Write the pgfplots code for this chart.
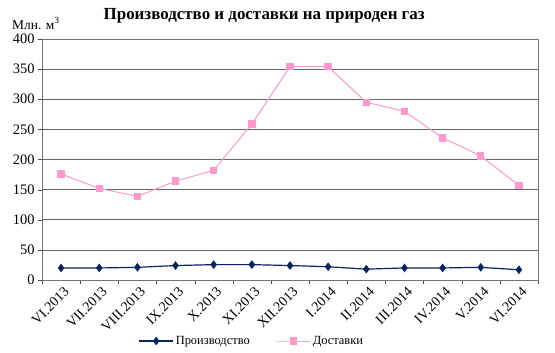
\documentclass[border=0pt]{standalone}
\usepackage{pgfplots}
\pgfplotsset{compat=1.18}
\usepackage{fontspec}
\setmainfont{Liberation Serif}
\definecolor{navy}{HTML}{0A2463}
\definecolor{pinkc}{HTML}{FF99CC}
\begin{document}
\begin{tikzpicture}
\begin{axis}[
  name=ax,
  width=496bp, height=241bp, scale only axis,
  xmin=-0.5, xmax=12.5, ymin=0, ymax=400,
  ytick={0,50,...,400},
  xtick={0,...,12},
  xticklabels={VI.2013,VII.2013,VIII.2013,IX.2013,X.2013,XI.2013,XII.2013,I.2014,II.2014,III.2014,IV.2014,V.2014,VI.2014},
  minor xtick={-0.5,0.5,...,12.5},
  major x tick style={draw=none},
  minor tick length=4bp,
  major tick length=4bp,
  tick align=outside,
  tick pos=left,
  ymajorgrids,
  grid style={black!60, line width=0.6bp},
  axis line style={black!55},
  tick style={black!70},
  x tick label style={rotate=45, anchor=north east, font=\fontsize{14}{16}\selectfont, inner sep=1bp, yshift=-2bp, xshift=1bp},
  y tick label style={font=\fontsize{14.5}{16}\selectfont},
  /pgf/number format/assume math mode=true,
  clip=false,
  legend style={draw=none, at={(axis description cs:0.423,0)}, anchor=center, yshift=-61bp,
    font=\fontsize{12.5}{14}\selectfont, legend columns=2,
    /tikz/every even column/.append style={column sep=24bp}},
  legend image code/.code={\draw[mark repeat=2, mark phase=2] plot coordinates {(0bp,0bp) (17bp,0bp) (34bp,0bp)};},
]
\addplot[color=navy, line width=1.2bp, mark=diamond*, mark size=3.4bp, mark options={fill=navy}]
  coordinates {(0,20) (1,20) (2,21) (3,24) (4,25.5) (5,25.5) (6,24) (7,22) (8,18) (9,20) (10,20) (11,21) (12,17)};
\addlegendentry{Производство}
\addplot[color=pinkc, line width=1bp, mark=square*, mark size=3.2bp, mark options={fill=pinkc}]
  coordinates {(0,176) (1,152) (2,139) (3,164) (4,182) (5,259) (6,354) (7,354) (8,295) (9,280) (10,236) (11,206) (12,157)};
\addlegendentry{Доставки}
\node[anchor=base, inner sep=0pt, font=\bfseries\fontsize{17}{20}\selectfont] at ([yshift=20bp]rel axis cs:0.448,1) {Производство и доставки на природен газ};
\node[anchor=base west, inner sep=0pt, font=\fontsize{13.5}{15}\selectfont] at ([shift={(-30bp,10bp)}]rel axis cs:0,1) {Млн. м\textsuperscript{3}};
\end{axis}
\path ([shift={(-42bp,-73bp)}]ax.south west) rectangle ([shift={(17bp,39bp)}]ax.north east);
\end{tikzpicture}
\end{document}
